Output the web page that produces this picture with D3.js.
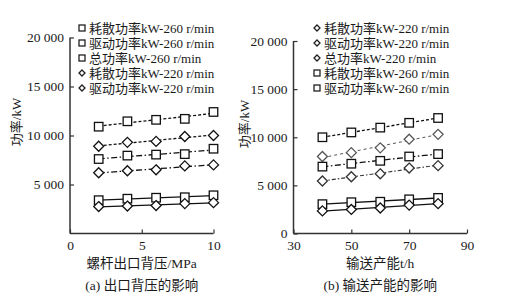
<!DOCTYPE html>
<html><head><meta charset="utf-8">
<script src="https://cdn.jsdelivr.net/npm/d3@7"></script>
<style>
body{margin:0;background:#fff;}
text{font-family:"Liberation Serif","Noto Sans CJK SC",serif;fill:#1a1a1a;}
</style></head>
<body><svg id="c" width="512" height="297"></svg>
<script>
// ---- data ----
const xA = [2, 4, 6, 8, 10];
const a_total260 = [10900, 11450, 11600, 11700, 12400];
const a_total220 = [8900, 9300, 9400, 9900, 10000];
const a_drive260 = [7600, 7950, 8050, 8100, 8650];
const a_drive220 = [6200, 6400, 6500, 6900, 7000];
const a_diss260 = [3400, 3550, 3650, 3700, 3900];
const a_diss220 = [2750, 2800, 2850, 3050, 3150];

const xB = [40, 50, 60, 70, 80];
const b_total260 = [10000, 10500, 11000, 11500, 12000];
const b_total220 = [8000, 8400, 8900, 9800, 10300];
const b_drive260 = [6950, 7250, 7550, 8000, 8250];
const b_drive220 = [5450, 5900, 6200, 6800, 7050];
const b_diss260 = [3050, 3250, 3300, 3550, 3700];
const b_diss220 = [2350, 2500, 2650, 2950, 3100];

const legendA = ["耗散功率kW-260 r/min","驱动功率kW-260 r/min","总功率kW-260 r/min","耗散功率kW-220 r/min","驱动功率kW-220 r/min"];
const legendAShapes = ["square","square","square","diamond","diamond"];
const legendB = ["耗散功率kW-220 r/min","驱动功率kW-220 r/min","总功率kW-220 r/min","耗散功率kW-260 r/min","驱动功率kW-260 r/min"];
const legendBShapes = ["diamond","diamond","diamond","square","square"];

const yTicksA = [5000, 10000, 15000, 20000];
const yTicksB = [0, 5000, 10000, 15000, 20000];
const xTicksA = [0, 5, 10];
const xTicksB = [30, 50, 70, 90];

const svg = d3.select("#c");
const fmt = v => { const s = String(v); return s.length > 3 ? s.slice(0, -3) + " " + s.slice(-3) : s; };

function fit(xs, ys){
  const n = xs.length, mx = d3.mean(xs), my = d3.mean(ys);
  let sxy = 0, sxx = 0;
  for (let i = 0; i < n; i++){ sxy += (xs[i]-mx)*(ys[i]-my); sxx += (xs[i]-mx)**2; }
  const b = sxy/sxx, a = my - b*mx;
  return x => a + b*x;
}

function marker(g, shape, cx, cy, s, color, sw, dr){
  if (shape === "square"){
    g.append("rect").attr("x", cx - s/2).attr("y", cy - s/2).attr("width", s).attr("height", s)
      .attr("fill", "#fff").attr("stroke", color).attr("stroke-width", sw);
  } else {
    const r = dr;
    g.append("path").attr("d", `M${cx},${cy-r}L${cx+r},${cy}L${cx},${cy+r}L${cx-r},${cy}Z`)
      .attr("fill", "#fff").attr("stroke", color).attr("stroke-width", sw);
  }
}

function panel(o){
  const g = svg.append("g");
  const x = d3.scaleLinear().domain(o.xd).range(o.xr);
  const y = d3.scaleLinear().domain([0, 20000]).range(o.yr);
  const ax = g.append("g").attr("transform", `translate(0,${o.yr[0]})`)
    .call(d3.axisBottom(x).tickValues(o.xt).tickSize(-4).tickPadding(7).tickFormat(d => d));
  const ay = g.append("g").attr("transform", `translate(${o.xr[0]},0)`)
    .call(d3.axisLeft(y).tickValues(o.yt).tickSize(-4).tickPadding(6).tickFormat(fmt));
  [ax, ay].forEach(a => {
    a.select(".domain").attr("stroke", "#333").attr("stroke-width", 1.5);
    a.selectAll(".tick line").attr("stroke", "#333").attr("stroke-width", 1.2);
    a.selectAll("text").style("font-size", "13.5px").attr("fill", "#1a1a1a")
      .style("font-family", '"Liberation Serif",serif');
  });
  ax.select(".domain").attr("d", `M${o.xr[0]},0H${o.xr[1]}`);
  ay.select(".domain").attr("d", `M0,${o.yr[0]}V${o.yr[1]}`);
  o.series.forEach(s => {
    const f = fit(o.xs, s.v);
    g.append("line")
      .attr("x1", x(o.xs[0])).attr("y1", y(f(o.xs[0])))
      .attr("x2", x(o.xs[o.xs.length-1])).attr("y2", y(f(o.xs[o.xs.length-1])))
      .attr("stroke", s.c || "#111").attr("stroke-width", s.w || 1.3)
      .attr("stroke-dasharray", s.dash || null);
    o.xs.forEach((xv, i) => marker(g, s.shape, x(xv), y(s.v[i]), 8.5, s.c || "#111", 1.3, 5));
  });
  o.legend.forEach((t, i) => {
    const cy = 28 + i*15;
    marker(g, o.legendShapes[i], o.lx, cy, 6, "#222", 1.3, 3);
    g.append("text").attr("x", o.lx + 7).attr("y", cy + 4.5).style("font-size", "13px").text(t);
  });
  g.append("text").attr("transform", `translate(${o.ytx},${o.yty}) rotate(-90)`)
    .attr("text-anchor", "middle").style("font-size", "13px").text("功率/kW");
  const cx = (o.xr[0] + o.xr[1]) / 2;
  g.append("text").attr("x", cx).attr("y", 268).attr("text-anchor", "middle").style("font-size", "13.5px").text(o.xtitle);
  g.append("text").attr("x", cx).attr("y", 290).attr("text-anchor", "middle").style("font-size", "13.5px").text(o.cap);
}

panel({
  xd: [0, 10], xr: [70, 213.5], yr: [233.5, 37.5], xt: xTicksA, yt: yTicksA, xs: xA,
  series: [
    {v: a_total260, shape: "square", dash: "3,2"},
    {v: a_total220, shape: "diamond", dash: "3,2"},
    {v: a_drive260, shape: "square", dash: "6,2.5,1.5,2.5"},
    {v: a_drive220, shape: "diamond", dash: "6,2.5,1.5,2.5"},
    {v: a_diss260, shape: "square"},
    {v: a_diss220, shape: "diamond"}
  ],
  legend: legendA, legendShapes: legendAShapes, lx: 82,
  ytx: 21, yty: 122, xtitle: "螺杆出口背压/MPa", cap: "(a) 出口背压的影响"
});

panel({
  xd: [30, 90], xr: [293.5, 467], yr: [233.5, 41], xt: xTicksB, yt: yTicksB, xs: xB,
  series: [
    {v: b_total260, shape: "square", dash: "3,2"},
    {v: b_total220, shape: "diamond", dash: "3,3", c: "#555", w: 1},
    {v: b_drive260, shape: "square", dash: "6,2.5,1.5,2.5"},
    {v: b_drive220, shape: "diamond", dash: "4,2,1.5,2", c: "#333", w: 1.1},
    {v: b_diss260, shape: "square"},
    {v: b_diss220, shape: "diamond"}
  ],
  legend: legendB, legendShapes: legendBShapes, lx: 317,
  ytx: 249, yty: 124, xtitle: "输送产能t/h", cap: "(b) 输送产能的影响"
});
</script></body></html>
